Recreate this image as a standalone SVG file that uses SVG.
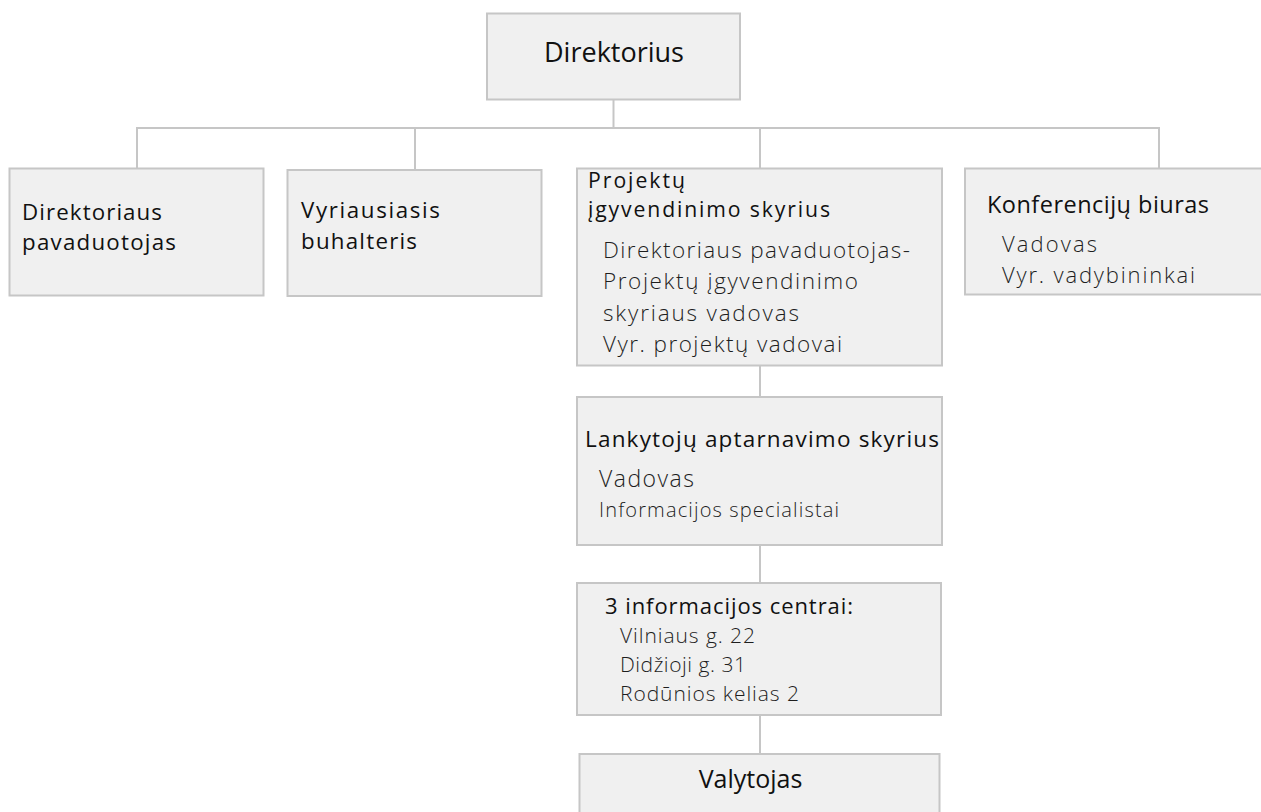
<svg xmlns="http://www.w3.org/2000/svg" width="1261" height="812" viewBox="0 0 1261 812">
<style>
.box{fill:#f0f0f0;stroke:#c6c6c6;stroke-width:2}
.ln{stroke:#c6c6c6;stroke-width:2;fill:none}
.t{font-family:"Open Sans","Noto Sans",sans-serif;fill:#111;font-weight:400}
.b{font-family:"Open Sans","Noto Sans",sans-serif;fill:#1e1e1e;font-weight:300}
</style>
<rect width="1261" height="812" fill="#ffffff"/>
<g id="connectors">
<line class="ln" x1="613.5" y1="99" x2="613.5" y2="128"/>
<line class="ln" x1="136" y1="128" x2="1160" y2="128"/>
<line class="ln" x1="137" y1="128" x2="137" y2="168"/>
<line class="ln" x1="415" y1="128" x2="415" y2="170"/>
<line class="ln" x1="760" y1="128" x2="760" y2="168"/>
<line class="ln" x1="1159" y1="128" x2="1159" y2="168"/>
<line class="ln" x1="760" y1="365" x2="760" y2="397"/>
<line class="ln" x1="760" y1="545" x2="760" y2="583"/>
<line class="ln" x1="760" y1="715" x2="760" y2="754"/>
</g>
<g id="n-direktorius">
<rect class="box" x="487" y="13.5" width="253" height="86"/>
<text class="t" x="614" y="62" text-anchor="middle" font-size="27">Direktorius</text>
</g>
<g id="n-pavaduotojas">
<rect class="box" x="9.5" y="168.5" width="254" height="127"/>
<text class="t" font-size="22.3" x="22" y="219.5" textLength="140">Direktoriaus</text>
<text class="t" font-size="22.3" x="22" y="250" textLength="154">pavaduotojas</text>
</g>
<g id="n-buhalteris">
<rect class="box" x="287.5" y="170" width="254" height="126"/>
<text class="t" font-size="22.3" x="301" y="218" textLength="139">Vyriausiasis</text>
<text class="t" font-size="22.3" x="301" y="248.5" textLength="116">buhalteris</text>
</g>
<g id="n-projektu">
<rect class="box" x="577" y="168.5" width="365" height="197"/>
<text class="t" font-size="21.2" x="588" y="188" textLength="97">Projektų</text>
<text class="t" font-size="21.2" x="588" y="217" textLength="242">įgyvendinimo skyrius</text>
<text class="b" font-size="22.5" x="603" y="258" textLength="307">Direktoriaus pavaduotojas-</text>
<text class="b" font-size="22.5" x="603" y="289" textLength="255">Projektų įgyvendinimo</text>
<text class="b" font-size="22.5" x="603" y="321" textLength="196">skyriaus vadovas</text>
<text class="b" font-size="22.5" x="603" y="352" textLength="239">Vyr. projektų vadovai</text>
</g>
<g id="n-konferenciju">
<rect class="box" x="965" y="168.5" width="300" height="126"/>
<text class="t" font-size="23.5" x="987" y="213" textLength="222">Konferencijų biuras</text>
<text class="b" font-size="22" x="1002" y="252" textLength="95">Vadovas</text>
<text class="b" font-size="22" x="1002" y="282.5" textLength="193">Vyr. vadybininkai</text>
</g>
<g id="n-lankytoju">
<rect class="box" x="577" y="397" width="365" height="148"/>
<text class="t" font-size="22.5" x="585" y="447" textLength="354">Lankytojų aptarnavimo skyrius</text>
<text class="b" font-size="23" x="599" y="487" textLength="95">Vadovas</text>
<text class="b" font-size="20" x="599" y="517" textLength="240">Informacijos specialistai</text>
</g>
<g id="n-centrai">
<rect class="box" x="577" y="583" width="364" height="132"/>
<text class="t" font-size="22" x="605" y="614" textLength="248">3 informacijos centrai:</text>
<text class="b" font-size="21" x="620" y="643" textLength="135">Vilniaus g. 22</text>
<text class="b" font-size="21" x="620" y="672" textLength="126">Didžioji g. 31</text>
<text class="b" font-size="21" x="620" y="701" textLength="179">Rodūnios kelias 2</text>
</g>
<g id="n-valytojas">
<rect class="box" x="579.5" y="754" width="360" height="70"/>
<text class="t" font-size="25" x="750.5" y="788" text-anchor="middle">Valytojas</text>
</g>
</svg>
